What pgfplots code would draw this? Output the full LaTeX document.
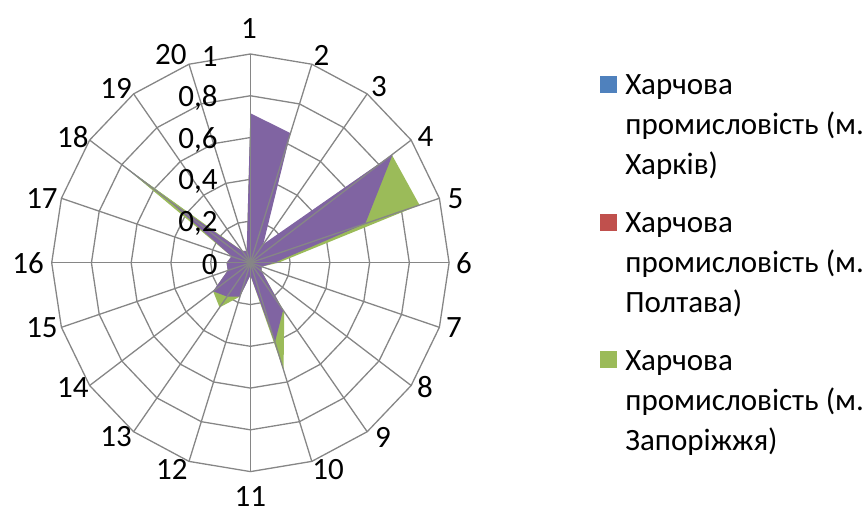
\documentclass[border=0pt]{standalone}
\usepackage{fontspec}
\setmainfont{Carlito}
\usepackage{pgfplots}
\usepackage{pgfplotstable}
\pgfplotsset{compat=1.18}

\definecolor{xlblue}{HTML}{4F81BD}
\definecolor{xlred}{HTML}{C0504D}
\definecolor{xlgreen}{HTML}{9BBB59}
\definecolor{xlpurple}{HTML}{8064A2}
\definecolor{gridc}{HTML}{868686}

% k = number of the spoke (1 at the top, clockwise); row 21 closes the polygon
\pgfplotstableread{
k  blue  red   green  purple
1  0.65  0.60  0.70   0.716
2  0.60  0.55  0.64   0.653
3  0.09  0.08  0.10   0.11
4  0.80  0.75  0.88   0.886
5  0.55  0.50  0.895  0.608
6  0.10  0.09  0.14   0.12
7  0.05  0.04  0.06   0.06
8  0.06  0.05  0.07   0.07
9  0.25  0.22  0.29   0.28
10 0.36  0.33  0.54   0.40
11 0.05  0.04  0.06   0.06
12 0.15  0.13  0.17   0.17
13 0.18  0.16  0.264  0.20
14 0.20  0.18  0.232  0.232
15 0.10  0.09  0.12   0.12
16 0.10  0.09  0.12   0.12
17 0.08  0.07  0.10   0.10
18 0.80  0.75  0.78   0.52
19 0.06  0.05  0.07   0.07
20 0.05  0.04  0.06   0.06
21 0.65  0.60  0.70   0.716
}\radar

\newcommand\legentry[5]{%
  \fill[#2] ([shift={(174.8pt,#1+0.9pt)}]c) rectangle ([shift={(183.3pt,#1+9.4pt)}]c);
  \node[anchor=base west, inner sep=0] at ([shift={(187.3pt,#1)}]c) {#3};
  \node[anchor=base west, inner sep=0] at ([shift={(187.3pt,#1-20pt)}]c) {#4};
  \node[anchor=base west, inner sep=0] at ([shift={(187.3pt,#1-40pt)}]c) {#5};
}

\begin{document}
\fontsize{15.5pt}{20pt}\selectfont
\begin{tikzpicture}
\begin{axis}[
    x=99.35pt, y=104.4pt,
    xmin=-1, xmax=1, ymin=-1, ymax=1,
    hide axis, clip=false,
]
% polygon rings
\pgfplotsinvokeforeach{0.2,0.4,0.6,0.8,1}{
  \addplot[gridc, line width=0.65pt, data cs=polar]
    table[x expr={90-(\thisrow{k}-1)*18}, y expr=#1] {\radar};
}
% series
\addplot[draw=none, fill=xlblue, data cs=polar]
  table[x expr={90-(\thisrow{k}-1)*18}, y=blue] {\radar};
\addplot[draw=none, fill=xlred, data cs=polar]
  table[x expr={90-(\thisrow{k}-1)*18}, y=red] {\radar};
\addplot[draw=none, fill=xlgreen, data cs=polar]
  table[x expr={90-(\thisrow{k}-1)*18}, y=green] {\radar};
\addplot[draw=none, fill=xlpurple, data cs=polar]
  table[x expr={90-(\thisrow{k}-1)*18}, y=purple] {\radar};
% spokes
\pgfplotsinvokeforeach{0,...,19}{
  \draw[gridc, line width=0.65pt] (0,0) -- ({cos(90-#1*18)},{sin(90-#1*18)});
}
% value labels
\node[anchor=east, inner sep=0] at (-0.163,-0.01) {0};
\node[anchor=east, inner sep=0] at (-0.163,0.19) {0,2};
\node[anchor=east, inner sep=0] at (-0.163,0.39) {0,4};
\node[anchor=east, inner sep=0] at (-0.163,0.59) {0,6};
\node[anchor=east, inner sep=0] at (-0.163,0.79) {0,8};
\node[anchor=east, inner sep=0] at (-0.163,0.99) {1};
% category labels
\node at (-0.007,1.124) {1};
\node at (0.358,0.995) {2};
\node at (0.647,0.842) {3};
\node at (0.881,0.607) {4};
\node at (1.032,0.308) {5};
\node at (1.075,0) {6};
\node at (1.025,-0.312) {7};
\node at (0.879,-0.595) {8};
\node at (0.667,-0.834) {9};
\node at (0.391,-0.992) {10};
\node at (0,-1.118) {11};
\node at (-0.395,-0.992) {12};
\node at (-0.676,-0.834) {13};
\node at (-0.893,-0.595) {14};
\node at (-1.049,-0.312) {15};
\node at (-1.119,0) {16};
\node at (-1.049,0.310) {17};
\node at (-0.893,0.602) {18};
\node at (-0.676,0.837) {19};
\node at (-0.400,0.995) {20};
\coordinate (c) at (0,0);
\end{axis}
\pgfresetboundingbox
\path[use as bounding box] ([shift={(-125.2pt,131.4pt)}]c) rectangle ([shift={(307.3pt,-125.6pt)}]c);
\legentry{83.9pt}{xlblue}{Харчова}{промисловість (м.}{Харків)}
\legentry{15.15pt}{xlred}{Харчова}{промисловість (м.}{Полтава)}
\legentry{-53.6pt}{xlgreen}{Харчова}{промисловість (м.}{Запоріжжя)}
\end{tikzpicture}
\end{document}
